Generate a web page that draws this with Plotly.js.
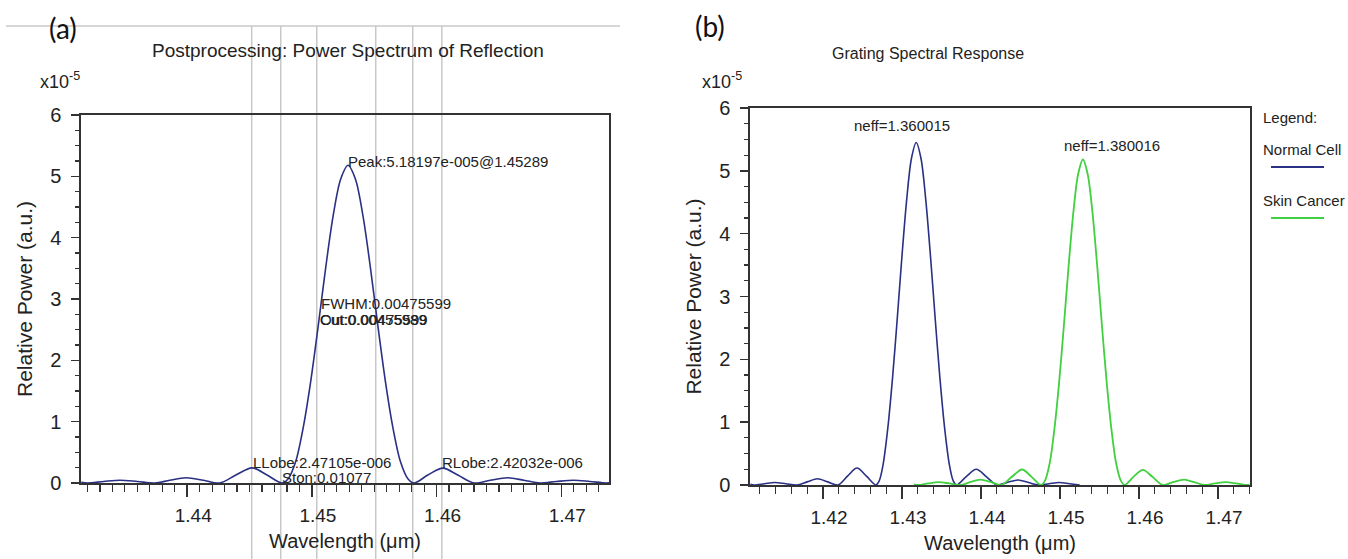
<!DOCTYPE html>
<html>
<head>
<meta charset="utf-8">
<script src="https://cdn.plot.ly/plotly-3.0.1.min.js"></script>
<style>html,body{margin:0;padding:0;background:#fff;}#chart{width:1348px;height:559px;}</style>
</head>
<body>
<div id="chart"></div>
<script>
// ---- Panel (a): Postprocessing power spectrum of reflection (also the Skin Cancer curve in (b))
const reflWavelength = [1.4315,1.4320,1.4333,1.4346,1.4360,1.4374,1.4386,1.4399,1.4413,1.4426,1.4439,1.4452,1.4464,1.4476,
  1.4481,1.4487,1.4493,1.4499,1.4505,1.4511,1.4517,1.4523,1.4529,1.4535,1.4541,1.4547,1.4553,1.4559,1.4565,1.4571,1.4577,1.4582,
  1.4593,1.4605,1.4617,1.4630,1.4643,1.4657,1.4670,1.4683,1.4696,1.4710,1.4723,1.4736,1.4740];
const reflPower = [0.01,0,0.025,0.045,0.025,0,0.045,0.085,0.045,0,0.13,0.247,0.13,0,
  0.07,0.35,0.9,1.65,2.55,3.5,4.35,4.95,5.18,4.95,4.35,3.5,2.55,1.65,0.9,0.35,0.07,0,
  0.13,0.242,0.13,0,0.045,0.085,0.045,0,0.025,0.045,0.025,0,0.005];

// ---- Panel (b): Normal Cell curve
const normalWavelength = [1.4108,1.4113,1.4126,1.4139,1.4153,1.4167,1.4180,1.4193,1.4206,1.4219,1.4231,1.4243,1.4255,1.4267,
  1.4271,1.4276,1.4282,1.4288,1.4294,1.4300,1.4306,1.4312,1.4318,1.4324,1.4330,1.4336,1.4342,1.4348,1.4354,1.4360,1.4365,1.4369,
  1.4381,1.4394,1.4407,1.4420,1.4433,1.4447,1.4460,1.4473,1.4486,1.4499,1.4512,1.4525];
const normalPower = [0.01,0,0.02,0.04,0.02,0,0.05,0.1,0.05,0,0.14,0.27,0.14,0,
  0.06,0.32,0.9,1.7,2.65,3.65,4.55,5.2,5.45,5.2,4.55,3.65,2.65,1.7,0.9,0.32,0.06,0,
  0.13,0.25,0.13,0,0.04,0.08,0.04,0,0.02,0.04,0.02,0];

// ---- Panel (a) marker lines (wavelengths of measurement cursors)
const cursorWavelengths = [1.44517,1.4475,1.45039,1.45512,1.45809,1.46042];

// ---- Tick labels / tick positions
const aTickVals = [1.44,1.45,1.46,1.47];
const aTickText = ['1.44','1.45','1.46','1.47'];
const aHalfTickVals = [1.435,1.445,1.455,1.465];
const bTickVals = [1.42,1.43,1.44,1.45,1.46,1.47];
const bTickText = ['1.42','1.43','1.44','1.45','1.46','1.47'];
const yTickVals = [0,1,2,3,4,5,6];
const yTickText = ['0','1','2','3','4','5','6'];

// ---- Annotation texts
const peakLabel = 'Peak:5.18197e-005@1.45289';
const fwhmLabel = 'FWHM:0.00475599';
const outLabels = ['Out:0.00475599','Cut:0.00455989'];
const llobeLabel = 'LLobe:2.47105e-006';
const stopLabel = 'Ston:0.01077';
const rlobeLabel = 'RLobe:2.42032e-006';
const neffLabels = ['neff=1.360015','neff=1.380016'];
const seriesNames = ['Normal Cell','Skin Cancer'];

const W = 1348, H = 559;
const px = v => v / W, py = v => 1 - v / H;

const navy = '#2a3084', green = '#40d040', axc = '#333333', txt = '#222222';
const FONT = 'Liberation Sans, Arial, Helvetica, sans-serif';
const aRange = [1.43148, 1.47383];

const traces = [
  {x: reflWavelength, y: reflPower, xaxis:'x', yaxis:'y', type:'scatter', mode:'lines',
   line:{color:navy, width:1.6, shape:'spline', smoothing:0.9}, hoverinfo:'skip'},
  {x: normalWavelength, y: normalPower, xaxis:'x2', yaxis:'y2', type:'scatter', mode:'lines', name: seriesNames[0],
   line:{color:navy, width:1.6, shape:'spline', smoothing:0.9}, hoverinfo:'skip'},
  {x: reflWavelength, y: reflPower, xaxis:'x2', yaxis:'y2', type:'scatter', mode:'lines', name: seriesNames[1],
   line:{color:green, width:1.8, shape:'spline', smoothing:0.9}, hoverinfo:'skip'}
];

function xAxis(domain, range, tv, tt, minorDtick, minorTick0, anchor) {
  return {domain, range, anchor, tickmode:'array', tickvals:tv, ticktext:tt,
    ticks:'outside', ticklen:12, tickwidth:1.5, tickcolor:axc,
    minor:{tickmode:'linear', tick0:minorTick0, dtick:minorDtick, ticks:'outside', ticklen:7, tickwidth:1.2, tickcolor:axc, showgrid:false},
    showline:true, linecolor:axc, linewidth:1.6, mirror:true, showgrid:false, zeroline:false,
    layer:'below traces', ticklabelstandoff:3, ticklabelshift:6,
    tickfont:{size:19, color:txt, family:FONT},
    title:{text:'Wavelength (μm)', font:{size:20, color:txt, family:FONT}, standoff:8}};
}
function yAxis(domain, anchor) {
  return {domain, range:[0,6], anchor, tickmode:'array', tickvals:yTickVals, ticktext:yTickText,
    ticks:'outside', ticklen:8, tickwidth:1.5, tickcolor:axc,
    minor:{tickmode:'linear', tick0:0, dtick:0.25, ticks:'outside', ticklen:4, tickwidth:1.2, tickcolor:axc, showgrid:false},
    showline:true, linecolor:axc, linewidth:1.6, mirror:true, showgrid:false, zeroline:false,
    layer:'below traces', ticklabelstandoff:6,
    tickfont:{size:20, color:txt, family:FONT},
    title:{text:'Relative Power (a.u.)', font:{size:21, color:txt, family:FONT}, standoff:12}};
}

const shapes = [
  {type:'line', xref:'paper', yref:'paper', x0:px(6), x1:px(620), y0:py(26), y1:py(26), line:{color:'#c8c8c8', width:1.5}, layer:'below'}
];
cursorWavelengths.forEach(w => shapes.push({type:'line', xref:'x', yref:'paper', x0:w, x1:w, y0:0, y1:py(26),
  line:{color:'#c8c8c8', width:1.5}, layer:'below'}));
shapes.push({type:'line', xref:'paper', yref:'paper', x0:px(1271), x1:px(1324), y0:py(167), y1:py(167), line:{color:navy, width:2}});
shapes.push({type:'line', xref:'paper', yref:'paper', x0:px(1271), x1:px(1324), y0:py(218), y1:py(218), line:{color:green, width:2}});

const af = s => ({size:s, color:txt, family:FONT});
const annotations = [
  {text:'(a)', xref:'paper', yref:'paper', x:px(63), y:py(28), showarrow:false, font:{size:28, color:'#111', family:'Lato, Open Sans, sans-serif'}, xanchor:'center', yanchor:'middle'},
  {text:'(b)', xref:'paper', yref:'paper', x:px(710), y:py(26), showarrow:false, font:{size:28, color:'#111', family:'Lato, Open Sans, sans-serif'}, xanchor:'center', yanchor:'middle'},
  {text:'Postprocessing: Power Spectrum of Reflection', xref:'paper', yref:'paper', x:px(348), y:py(50), showarrow:false, font:af(19), xanchor:'center', yanchor:'middle'},
  {text:'Grating Spectral Response', xref:'paper', yref:'paper', x:px(928), y:py(54), showarrow:false, font:af(16), xanchor:'center', yanchor:'middle'},
  {text:'x10<sup>-5</sup>', xref:'paper', yref:'paper', x:px(38), y:py(80), showarrow:false, font:af(18), xanchor:'left', yanchor:'middle'},
  {text:'x10<sup>-5</sup>', xref:'paper', yref:'paper', x:px(700), y:py(80), showarrow:false, font:af(18), xanchor:'left', yanchor:'middle'},
  {text:peakLabel, xref:'x', yref:'y', x:1.45275, y:5.25, showarrow:false, font:af(15), xanchor:'left', yanchor:'middle'},
  {text:fwhmLabel, xref:'x', yref:'y', x:1.4506, y:2.93, showarrow:false, font:af(15), xanchor:'left', yanchor:'middle'},
  {text:outLabels[0], xref:'x', yref:'y', x:1.4505, y:2.67, showarrow:false, font:af(15), xanchor:'left', yanchor:'middle'},
  {text:outLabels[1], xref:'x', yref:'y', x:1.4505, y:2.67, showarrow:false, font:af(15), xanchor:'left', yanchor:'middle'},
  {text:llobeLabel, xref:'x', yref:'y', x:1.44509, y:0.33, showarrow:false, font:af(15), xanchor:'left', yanchor:'middle'},
  {text:stopLabel, xref:'x', yref:'y', x:1.44742, y:0.09, showarrow:false, font:af(15), xanchor:'left', yanchor:'middle'},
  {text:rlobeLabel, xref:'x', yref:'y', x:1.46025, y:0.33, showarrow:false, font:af(15), xanchor:'left', yanchor:'middle'},
  {text:neffLabels[0], xref:'x2', yref:'y2', x:1.4300, y:5.72, showarrow:false, font:af(15), xanchor:'center', yanchor:'middle'},
  {text:neffLabels[1], xref:'x2', yref:'y2', x:1.4566, y:5.4, showarrow:false, font:af(15), xanchor:'center', yanchor:'middle'},
  {text:'Legend:', xref:'paper', yref:'paper', x:px(1261), y:py(117), showarrow:false, font:af(15), xanchor:'left', yanchor:'middle'},
  {text:seriesNames[0], xref:'paper', yref:'paper', x:px(1261), y:py(149), showarrow:false, font:af(15), xanchor:'left', yanchor:'middle'},
  {text:seriesNames[1], xref:'paper', yref:'paper', x:px(1261), y:py(200), showarrow:false, font:af(15), xanchor:'left', yanchor:'middle'}
];

const layout = {
  width:W, height:H, margin:{l:0, r:0, t:0, b:0}, paper_bgcolor:'#ffffff', plot_bgcolor:'rgba(0,0,0,0)',
  showlegend:false, font:{family:FONT, color:txt},
  xaxis: xAxis([px(81), px(609)], aRange, aTickVals, aTickText, 0.001, 1.43, 'y'),
  yaxis: yAxis([py(483), py(115)], 'x'),
  xaxis3: {domain:[px(81), px(609)], range:aRange, overlaying:'x', anchor:'y', side:'bottom',
    tickmode:'array', tickvals:aHalfTickVals, ticks:'outside', ticklen:12, tickwidth:1.5, tickcolor:axc,
    showticklabels:false, showline:false, showgrid:false, zeroline:false},
  xaxis2: xAxis([px(750), px(1250)], [1.41076, 1.47405], bTickVals, bTickText, 0.002, 1.41, 'y2'),
  yaxis2: yAxis([py(485), py(108)], 'x2'),
  shapes, annotations
};

Plotly.newPlot('chart', traces, layout, {staticPlot:true, displayModeBar:false});
</script>
</body>
</html>
